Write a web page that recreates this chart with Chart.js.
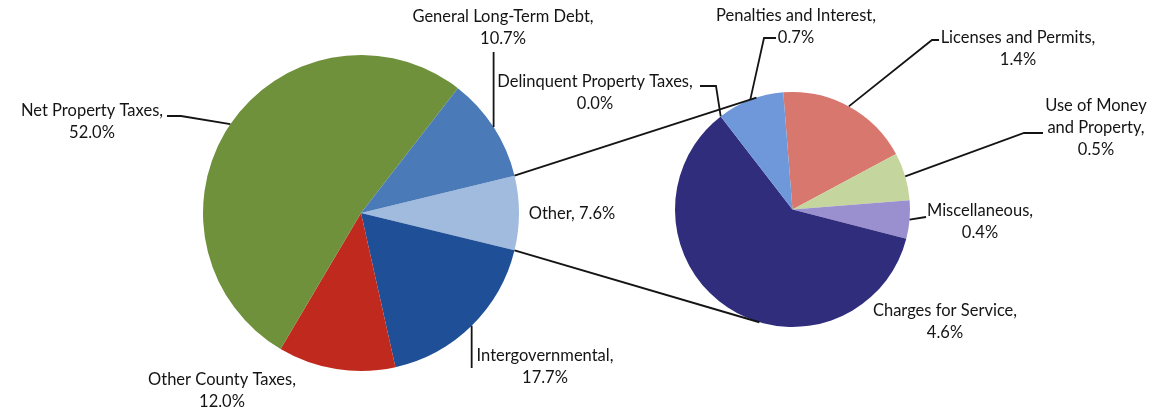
<!DOCTYPE html>
<html>
<head>
<meta charset="utf-8">
<script src="https://cdn.jsdelivr.net/npm/chart.js@4.4.0/dist/chart.umd.min.js"></script>
<style>
  html, body { margin: 0; padding: 0; background: #ffffff; width: 1155px; height: 409px; overflow: hidden; }
  canvas { position: absolute; left: 0; top: 0; }
</style>
</head>
<body>
<canvas id="mainPie" width="1155" height="409"></canvas>
<canvas id="subPie" width="1155" height="409"></canvas>
<script>
// ---------- DATA ----------
const mainCategories = ['Other', 'Intergovernmental', 'Other County Taxes', 'Net Property Taxes', 'General Long-Term Debt'];
const mainValues = [7.6, 17.7, 12.0, 52.0, 10.7];
const mainValueLabels = ['7.6%', '17.7%', '12.0%', '52.0%', '10.7%'];

const subCategories = ['Licenses and Permits', 'Use of Money and Property', 'Miscellaneous', 'Charges for Service', 'Delinquent Property Taxes', 'Penalties and Interest'];
const subValues = [1.4, 0.5, 0.4, 4.6, 0.0, 0.7];
const subValueLabels = ['1.4%', '0.5%', '0.4%', '4.6%', '0.0%', '0.7%'];

// ---------- STYLE / LAYOUT ----------
const FONT = '16.5px Lato, "Open Sans", sans-serif';
const TEXT_COLOR = '#141414';
const LINE_COLOR = '#141414';
const LINE_H = 22;

const mainColors = ['#a0bbdd', '#1f4f97', '#c0291d', '#70913c', '#4a7bb8'];
const subColors = ['#d8776d', '#c4d59e', '#9a8fcf', '#302d7d', '#302d7d', '#6e98d9'];

// label text placement (centre x, first line y) and leader routing
const mainLabelLayout = {
  'Other': { x: 572, y: 214, single: true },
  'Intergovernmental': { x: 545, y: 356, vertical: 368 },
  'Other County Taxes': { x: 222, y: 380 },
  'Net Property Taxes': { x: 92, y: 111, leader: [[167, 116], [181, 116]] },
  'General Long-Term Debt': { x: 503, y: 17, vertical: 52 }
};
const subLabelLayout = {
  'Licenses and Permits': { x: 1018, y: 38, leader: [[939, 40], [932, 40]] },
  'Use of Money and Property': { x: 1096, y: 106, split: 3, leader: [[1043, 133], [1024, 133]] },
  'Miscellaneous': { x: 980, y: 211, leader: [[926, 217]] },
  'Charges for Service': { x: 945, y: 311 },
  'Delinquent Property Taxes': { x: 595, y: 82, leader: [[700, 86], [716, 86]] },
  'Penalties and Interest': { x: 796, y: 16, leader: [[776, 38], [764, 38]] }
};

function buildLines(cat, val, L) {
  if (L.single) return [cat + ', ' + val];
  if (L.split) {
    const w = cat.split(' ');
    return [w.slice(0, L.split).join(' '), w.slice(L.split).join(' ') + ',', val];
  }
  return [cat + ',', val];
}

function arcGeom(arc) {
  return arc.getProps(['x', 'y', 'startAngle', 'endAngle', 'outerRadius'], true);
}

function labelPlugin(layout, cats, vals) {
  return {
    id: 'pieLabels',
    afterDatasetsDraw(chart) {
      const ctx = chart.ctx;
      const meta = chart.getDatasetMeta(0);
      ctx.save();
      ctx.strokeStyle = LINE_COLOR;
      ctx.lineWidth = 1.8;
      ctx.font = FONT;
      ctx.fillStyle = TEXT_COLOR;
      ctx.textAlign = 'center';
      ctx.textBaseline = 'middle';
      meta.data.forEach((arc, i) => {
        const L = layout[cats[i]];
        if (!L) return;
        const p = arcGeom(arc);
        const mid = (p.startAngle + p.endAngle) / 2;
        const ax = p.x + Math.cos(mid) * p.outerRadius;
        const ay = p.y + Math.sin(mid) * p.outerRadius;
        if (L.vertical !== undefined) {
          ctx.beginPath();
          ctx.moveTo(ax, L.vertical);
          ctx.lineTo(ax, ay);
          ctx.stroke();
        } else if (L.leader) {
          ctx.beginPath();
          ctx.moveTo(L.leader[0][0], L.leader[0][1]);
          for (let k = 1; k < L.leader.length; k++) ctx.lineTo(L.leader[k][0], L.leader[k][1]);
          ctx.lineTo(ax, ay);
          ctx.stroke();
        }
        const lines = buildLines(cats[i], vals[i], L);
        lines.forEach((t, k) => ctx.fillText(t, L.x, L.y + k * LINE_H));
      });
      ctx.restore();
    }
  };
}

function pieOptions(padding, rotation) {
  return {
    responsive: false,
    animation: false,
    events: [],
    rotation: rotation,
    layout: { padding: padding },
    plugins: { legend: { display: false }, tooltip: { enabled: false }, title: { display: false } }
  };
}

// ---------- MAIN PIE ----------
const otherShare = mainValues[0] / mainValues.reduce((a, b) => a + b, 0) * 360;
const mainChart = new Chart(document.getElementById('mainPie'), {
  type: 'pie',
  data: {
    labels: mainCategories,
    datasets: [{ data: mainValues, backgroundColor: mainColors, borderWidth: 0 }]
  },
  options: pieOptions({ left: 203, right: 636, top: 55, bottom: 38 }, 90 - otherShare / 2),
  plugins: [labelPlugin(mainLabelLayout, mainCategories, mainValueLabels)]
});

// ---------- CONNECTORS ----------
const connectorPlugin = {
  id: 'connectors',
  afterDatasetsDraw(chart) {
    const src = arcGeom(mainChart.getDatasetMeta(0).data[0]);
    const g = arcGeom(chart.getDatasetMeta(0).data[0]);
    const ctx = chart.ctx;
    ctx.save();
    ctx.strokeStyle = LINE_COLOR;
    ctx.lineWidth = 1.9;
    [[src.startAngle, -1], [src.endAngle, 1]].forEach(([ang, side]) => {
      const px = src.x + Math.cos(ang) * src.outerRadius;
      const py = src.y + Math.sin(ang) * src.outerRadius;
      const dx = g.x - px, dy = g.y - py;
      const d = Math.hypot(dx, dy);
      const base = Math.atan2(dy, dx);
      const off = Math.asin(g.outerRadius / d);
      const dir = base + side * off;
      const len = Math.sqrt(d * d - g.outerRadius * g.outerRadius);
      ctx.beginPath();
      ctx.moveTo(px, py);
      ctx.lineTo(px + Math.cos(dir) * len, py + Math.sin(dir) * len);
      ctx.stroke();
    });
    ctx.restore();
  }
};

// ---------- SECONDARY PIE ----------
const subChart = new Chart(document.getElementById('subPie'), {
  type: 'pie',
  data: {
    labels: subCategories,
    datasets: [{ data: subValues, backgroundColor: subColors, borderWidth: 0 }]
  },
  options: pieOptions({ left: 675, right: 245, top: 92, bottom: 82 }, -4.5),
  plugins: [connectorPlugin, labelPlugin(subLabelLayout, subCategories, subValueLabels)]
});
</script>
</body>
</html>
